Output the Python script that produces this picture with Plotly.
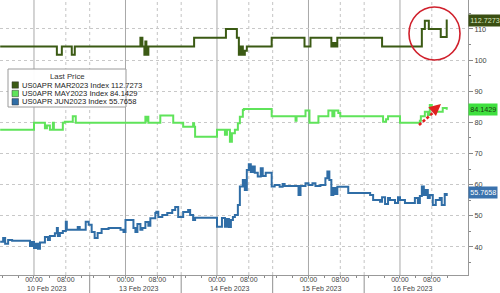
import plotly.graph_objects as go

# x = 15-minute bar index of compressed trading time (session 15:00 -> 14:00, 92 bars/day)
mar_x = [2, 59, 64, 74, 77, 143, 145, 147, 148, 149, 151, 197, 229, 240, 242, 244, 246, 248, 250,
         275, 308, 314, 335, 337, 339, 341, 386, 426, 429, 433, 445, 451, 452]
mar_y = [104.4, 101.7, 104.4, 101.7, 104.4, 107.2, 104.4, 101.7, 106.0, 101.7, 104.4, 107.2, 110.0, 107.2,
         101.7, 104.4, 101.7, 103.0, 104.4, 107.2, 104.4, 107.2, 104.4, 105.5, 104.4, 107.2, 104.4,
         110.0, 112.6, 110.0, 107.4, 112.7, 112.7]

may_x = [2, 36, 47, 49, 52, 55, 56, 65, 67, 75, 78, 148, 149, 150, 151, 163, 176, 186, 196, 197, 198,
         220, 228, 230, 233, 235, 238, 241, 243, 246, 247, 275, 299, 300, 309, 313, 322, 332, 336, 338,
         342, 344, 387, 390, 392, 404, 424, 425, 429, 432, 434, 436, 439, 444, 447, 451]
may_y = [77.6, 79.9, 78.1, 79.0, 77.6, 79.9, 77.6, 79.9, 80.2, 82.0, 79.9, 81.8, 80.5, 81.8, 79.9, 82.2,
         79.9, 78.6, 79.7, 78.6, 75.4, 77.6, 76.0, 77.6, 73.8, 76.5, 77.6, 79.7, 81.8, 84.0, 84.3, 82.0,
         80.5, 82.0, 83.8, 79.9, 82.0, 83.8, 82.0, 83.8, 83.0, 82.0, 80.2, 81.0, 82.0, 79.9, 80.5, 82.0,
         83.4, 82.4, 85.6, 84.3, 83.4, 83.4, 84.6, 84.1]

jun_x = [2, 5, 7, 10, 14, 32, 34, 36, 38, 40, 42, 47, 50, 52, 57, 59, 60, 62, 65, 68, 69, 80, 82, 88,
         91, 94, 97, 100, 104, 111, 123, 126, 128, 136, 138, 140, 143, 145, 148, 151, 153, 158, 159,
         161, 165, 170, 175, 178, 181, 186, 191, 193, 196, 198, 220, 225, 228, 230, 232, 234, 236, 238,
         241, 243, 246, 248, 250, 252, 254, 256, 258, 261, 264, 266, 269, 275, 278, 283, 286, 288, 302,
         304, 309, 312, 316, 319, 324, 329, 331, 333, 335, 337, 339, 341, 352, 374, 377, 384, 386, 389,
         392, 394, 399, 402, 404, 409, 419, 422, 424, 426, 428, 430, 432, 434, 437, 440, 444, 446, 449, 451]
jun_y = [41.7, 42.9, 41.0, 42.2, 42.0, 40.3, 41.6, 39.7, 41.0, 39.4, 41.4, 43.2, 42.2, 43.5, 44.4, 46.1,
         43.5, 44.5, 45.1, 48.1, 45.5, 46.4, 45.5, 48.1, 47.1, 44.8, 42.9, 44.5, 45.8, 46.1, 45.5, 44.8,
         48.7, 46.1, 44.8, 47.4, 45.5, 46.1, 48.0, 46.8, 49.2, 50.9, 51.3, 49.6, 50.3, 50.9, 51.9, 52.8,
         49.6, 51.2, 51.9, 50.3, 48.7, 49.4, 46.5, 49.3, 46.5, 49.0, 46.4, 48.7, 49.6, 50.3, 53.5, 59.4,
         61.5, 58.3, 64.7, 66.6, 64.1, 65.8, 63.8, 62.6, 65.3, 62.8, 63.8, 59.4, 59.9, 59.3, 60.2, 59.6,
         56.7, 59.6, 60.5, 59.9, 60.5, 59.6, 59.9, 62.1, 64.2, 61.5, 56.7, 58.9, 57.0, 59.3, 57.3, 56.7,
         55.1, 54.5, 56.0, 53.8, 55.7, 55.1, 54.1, 56.0, 55.1, 54.1, 55.7, 54.1, 56.4, 59.4, 56.7, 58.3,
         55.7, 56.7, 53.5, 55.1, 55.7, 53.5, 57.0, 56.4]

series_names = ["US0APR MAR2023 Index", "US0APR MAY2023 Index", "US0APR JUN2023 Index"]
last_prices = ["112.7273", "84.1429", "55.7658"]
colors = ["#3b5a14", "#5fe35a", "#2f6da6"]

midnight_bars = [36, 128, 220, 312, 404]
eight_bars = [68, 160, 252, 344, 436]
session_bars = [92, 184, 276, 368]
day_labels = ["10 Feb 2023", "13 Feb 2023", "14 Feb 2023", "15 Feb 2023", "16 Feb 2023"]

W, H = 500, 293
ML, MR, MT, MB = 0, 32, 0, 18
PW, PH = W - ML - MR, H - MT - MB

def px(x):
    return x / PW

def py(y):
    return 1 - y / PH

fig = go.Figure()
for xs, ys, c in zip([mar_x, may_x, jun_x], [mar_y, may_y, jun_y], colors):
    fig.add_trace(go.Scatter(x=xs, y=ys, mode="lines", line=dict(color=c, width=2, shape="hv"),
                             showlegend=False, hoverinfo="skip"))

shapes = []
for b in midnight_bars:
    shapes.append(dict(type="line", xref="x", yref="paper", x0=b, x1=b, y0=0, y1=1,
                       line=dict(color="#a8a8a8", width=1), layer="below"))
for b in eight_bars + session_bars:
    shapes.append(dict(type="line", xref="x", yref="paper", x0=b, x1=b, y0=0, y1=1,
                       line=dict(color="#c4c4c4", width=1, dash="dot"), layer="below"))
for b in session_bars:
    shapes.append(dict(type="line", xref="x", yref="paper", x0=b, x1=b, y0=-MB / PH, y1=0,
                       line=dict(color="#909090", width=1)))

# legend box
shapes.append(dict(type="rect", xref="paper", yref="paper", x0=px(8), x1=px(126), y0=py(107), y1=py(69),
                   fillcolor="rgba(255,255,255,0.95)", line=dict(color="#9a9a9a", width=1)))
legend_rows = [85, 93.5, 101.8]
for yc, c in zip(legend_rows, colors):
    shapes.append(dict(type="rect", xref="paper", yref="paper", x0=px(12), x1=px(18.5),
                       y0=py(yc + 3.2), y1=py(yc - 3.2), fillcolor=c, line=dict(color="#333", width=0.5)))

# red circle and arrow
shapes.append(dict(type="circle", xref="paper", yref="paper", x0=px(409), x1=px(460), y0=py(60), y1=py(7),
                   line=dict(color="#d0202c", width=1.6)))
shapes.append(dict(type="line", xref="paper", yref="paper", x0=px(419), y0=py(125), x1=px(435), y1=py(111),
                   line=dict(color="#e02020", width=2.6, dash="3px,2px")))

font = "Liberation Sans, Arial, sans-serif"
narrow = "Liberation Sans Narrow, Liberation Sans, Arial, sans-serif"
annotations = []
annotations.append(dict(xref="paper", yref="paper", x=px(441), y=py(104), ax=-7, ay=6, text="",
                        showarrow=True, arrowhead=2, arrowsize=0.9, arrowwidth=2.6, arrowcolor="#e02020"))
annotations.append(dict(xref="paper", yref="paper", x=px(67), y=py(76), text="Last Price", showarrow=False,
                        xanchor="center", yanchor="middle",
                        font=dict(family=narrow, size=7.8, color="#333")))
for yc, n, lp in zip(legend_rows, series_names, last_prices):
    annotations.append(dict(xref="paper", yref="paper", x=px(20), y=py(yc), xanchor="left", yanchor="middle",
                            text=n + " " + lp, showarrow=False,
                            font=dict(family=narrow, size=7.6, color="#222")))
for b, d in zip(midnight_bars, day_labels):
    annotations.append(dict(xref="x", yref="paper", x=b + 13, y=py(288.5), text=d, showarrow=False,
                            xanchor="center", yanchor="middle",
                            font=dict(family=font, size=7, color="#444")))
box_styles = [("#3a4f12", "#dfe9c4", 20.5), ("#3fe03f", "#1a3a10", 109.5), ("#3a72ad", "#ffffff", 192.5)]
for (bg, fc, yc), lp in zip(box_styles, last_prices):
    annotations.append(dict(xref="paper", yref="paper", x=1.0, y=py(yc), xanchor="left", yanchor="middle",
                            text=lp, showarrow=False, bgcolor=bg, borderpad=1.2,
                            font=dict(family=font, size=7.2, color=fc)))

fig.update_layout(
    width=W, height=H, margin=dict(l=ML, r=MR, t=MT, b=MB),
    paper_bgcolor="white", plot_bgcolor="white",
    shapes=shapes, annotations=annotations, showlegend=False,
    xaxis=dict(range=[1.82, 472.4], showgrid=False, zeroline=False,
               tickvals=midnight_bars + eight_bars,
               ticktext=["00:00"] * 5 + ["08:00"] * 5,
               ticks="outside", ticklen=2, tickcolor="#888", ticklabelstandoff=-4,
               minor=dict(tickvals=[b + k * 16 for b in midnight_bars for k in (-2, -1, 1, 3)],
                          ticks="outside", ticklen=2, tickcolor="#888"),
               showline=True, linecolor="#999", linewidth=1,
               tickfont=dict(family=font, size=7, color="#444")),
    yaxis=dict(range=[31.0, 119.3], side="right", tickvals=[40, 50, 60, 70, 80, 90, 100, 110],
               showgrid=True, gridcolor="#c8c8c8", griddash="dot", gridwidth=1, zeroline=False,
               ticks="outside", ticklen=4, tickcolor="#888",
               minor=dict(dtick=5, ticks="outside", ticklen=2, tickcolor="#888", showgrid=False),
               showline=True, linecolor="#999", linewidth=1,
               tickfont=dict(family=font, size=7.3, color="#444")),
)

fig.write_html("out.html")
